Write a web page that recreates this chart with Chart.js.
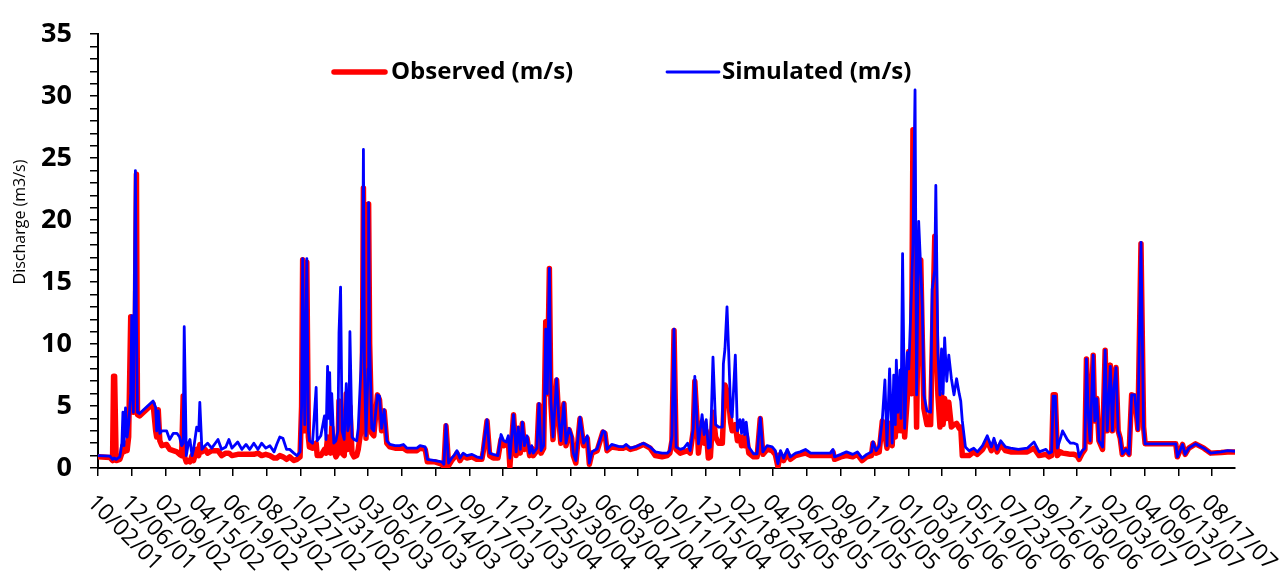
<!DOCTYPE html>
<html>
<head>
<meta charset="utf-8">
<script src="https://cdn.jsdelivr.net/npm/chart.js@4.4.1/dist/chart.umd.min.js"></script>
<style>
    html, body { margin: 0; padding: 0; background: #fff; }
    #wrap { width: 1288px; height: 572px; }
</style>
</head>
<body>
<div id="wrap"><canvas id="chart" width="1288" height="572"></canvas></div>
<script>
// x axis tick labels (every 65 days from the first day of the record)
const tickLabels = ['10/02/01', '12/06/01', '02/09/02', '04/15/02', '06/19/02', '08/23/02', '10/27/02',
    '12/31/02', '03/06/03', '05/10/03', '07/14/03', '09/17/03', '11/21/03', '01/25/04', '03/30/04',
    '06/03/04', '08/07/04', '10/11/04', '12/15/04', '02/18/05', '04/24/05', '06/28/05', '09/01/05',
    '11/05/05', '01/09/06', '03/15/06', '05/19/06', '07/23/06', '09/26/06', '11/30/06', '02/03/07',
    '04/09/07', '06/13/07', '08/17/07'];

// day number since 10/02/01
const days = [0, 23, 28, 30, 32, 35, 42, 46, 48, 50, 53, 56, 59, 63, 65, 68, 72, 74, 76, 80,
    106, 111, 113, 116, 119, 123, 132, 138, 145, 152, 157, 161, 164, 166, 170, 174, 177, 181, 184, 190,
    194, 196, 200, 206, 211, 219, 231, 238, 246, 252, 258, 269, 277, 285, 292, 300, 308, 315, 323, 331,
    339, 344, 350, 356, 363, 369, 377, 383, 389, 392, 394, 398, 402, 405, 407, 413, 420, 422, 429, 436,
    439, 442, 444, 446, 448, 450, 454, 458, 462, 464, 467, 470, 474, 478, 481, 483, 485, 489, 493, 498,
    501, 506, 509, 511, 513, 516, 520, 521, 523, 527, 531, 538, 542, 546, 551, 556, 562, 572, 581, 588,
    595, 605, 614, 620, 630, 634, 649, 662, 666, 670, 675, 681, 687, 691, 697, 703, 710, 720, 729, 739,
    742, 749, 754, 761, 770, 776, 781, 786, 790, 793, 800, 805, 809, 813, 817, 821, 826, 831, 835, 838,
    845, 849, 853, 858, 862, 865, 869, 872, 876, 883, 887, 891, 897, 901, 907, 912, 915, 920, 928, 935,
    942, 946, 951, 961, 972, 976, 980, 989, 1002, 1011, 1017, 1025, 1034, 1050, 1063, 1073, 1086, 1096, 1101, 1105,
    1109, 1113, 1121, 1128, 1135, 1140, 1146, 1149, 1153, 1156, 1163, 1167, 1171, 1175, 1179, 1184, 1189, 1195, 1202, 1204,
    1207, 1211, 1214, 1218, 1221, 1227, 1231, 1236, 1239, 1242, 1245, 1248, 1253, 1262, 1269, 1275, 1280, 1288, 1298, 1304,
    1309, 1314, 1320, 1327, 1333, 1343, 1352, 1362, 1372, 1391, 1410, 1415, 1418, 1430, 1441, 1453, 1462, 1471, 1480, 1489,
    1492, 1498, 1504, 1510, 1515, 1519, 1524, 1529, 1532, 1535, 1537, 1540, 1544, 1546, 1549, 1553, 1558, 1561, 1566, 1569,
    1573, 1576, 1580, 1584, 1587, 1590, 1596, 1603, 1606, 1611, 1613, 1617, 1621, 1624, 1627, 1630, 1634, 1638, 1643, 1648,
    1653, 1658, 1661, 1664, 1670, 1677, 1686, 1693, 1703, 1712, 1720, 1725, 1731, 1738, 1747, 1757, 1772, 1789, 1802, 1812,
    1825, 1831, 1836, 1839, 1843, 1847, 1853, 1857, 1866, 1872, 1879, 1885, 1889, 1895, 1900, 1903, 1907, 1910, 1916, 1919,
    1923, 1927, 1934, 1939, 1943, 1946, 1949, 1953, 1956, 1960, 1964, 1968, 1972, 1979, 1985, 1990, 1996, 2002, 2008, 2013,
    2016, 2075, 2078, 2088, 2093, 2100, 2113, 2129, 2142, 2162, 2175, 2189];

const observed = [0.9, 0.85, 0.6, 7.4, 7.4, 0.6, 0.7, 1.2, 1.8, 1.3, 2.0, 1.4, 2.5, 12.2, 5.0, 4.5, 12.0, 23.7, 4.3, 4.2,
    5.2, 3.0, 2.5, 4.7, 2.2, 1.8, 1.9, 1.5, 1.4, 1.3, 1.1, 1.0, 5.8, 1.0, 0.5, 0.6, 0.5, 1.0, 0.6, 1.5,
    1.0, 1.9, 1.3, 1.5, 1.2, 1.4, 1.4, 1.0, 1.2, 1.2, 1.0, 1.1, 1.1, 1.1, 1.1, 1.1, 1.2, 1.0, 1.1, 1.0,
    0.8, 0.8, 1.0, 0.9, 0.7, 0.9, 0.6, 0.7, 0.9, 5.0, 16.8, 3.0, 16.6, 2.5, 1.7, 1.6, 2.0, 1.0, 1.0, 1.5,
    1.2, 2.5, 1.5, 2.0, 1.2, 3.3, 1.5, 0.9, 1.2, 5.4, 2.5, 1.2, 1.0, 6.0, 1.5, 2.5, 5.0, 1.2, 0.9, 1.0,
    1.5, 3.0, 8.0, 22.6, 10.0, 2.4, 8.0, 21.3, 10.0, 2.8, 2.6, 5.9, 5.5, 3.0, 4.6, 2.0, 1.7, 1.6, 1.6, 1.6,
    1.4, 1.4, 1.4, 1.6, 1.5, 0.5, 0.5, 0.3, 0.1, 3.4, 0.2, 0.6, 0.9, 1.2, 0.6, 1.0, 0.8, 0.9, 0.7, 0.7,
    1.4, 3.8, 1.0, 0.8, 0.8, 2.3, 1.8, 1.9, 2.2, 0.1, 4.3, 1.0, 3.2, 1.2, 3.6, 1.5, 2.4, 1.0, 1.6, 1.0,
    1.4, 5.1, 1.2, 1.6, 11.8, 6.0, 16.1, 5.2, 2.3, 7.1, 4.0, 2.0, 5.2, 1.8, 3.1, 2.4, 1.0, 0.4, 4.0, 1.8,
    2.4, 0.3, 1.2, 1.4, 2.9, 2.8, 1.4, 1.7, 1.6, 1.6, 1.7, 1.5, 1.6, 1.9, 1.6, 1.0, 0.9, 1.0, 1.2, 2.2,
    11.1, 1.5, 1.2, 1.3, 1.4, 1.2, 3.0, 7.0, 4.0, 1.2, 3.7, 2.0, 3.0, 0.8, 0.9, 4.5, 2.5, 2.0, 2.0, 4.0,
    6.7, 6.2, 5.6, 3.7, 3.0, 3.5, 2.2, 2.5, 1.8, 2.5, 1.8, 2.7, 1.2, 0.9, 0.9, 4.0, 1.1, 1.5, 1.4, 1.1,
    0.1, 1.1, 0.6, 1.2, 0.7, 1.0, 1.1, 1.2, 1.0, 1.0, 1.0, 1.3, 0.7, 0.9, 1.0, 0.9, 1.1, 0.6, 0.9, 1.0,
    2.0, 1.2, 1.3, 3.8, 2.7, 1.6, 3.6, 1.8, 4.4, 2.5, 5.1, 3.0, 4.0, 3.0, 7.0, 2.5, 5.6, 9.4, 6.0, 27.3,
    12.0, 3.3, 16.5, 16.8, 10.4, 4.8, 3.5, 3.5, 9.3, 18.7, 12.0, 5.9, 3.3, 5.9, 3.5, 5.6, 4.0, 5.3, 3.3, 3.5,
    3.6, 3.2, 3.3, 1.0, 1.0, 1.0, 1.3, 1.1, 1.5, 2.2, 1.4, 2.0, 1.3, 1.9, 1.4, 1.3, 1.3, 1.3, 1.6, 1.0,
    1.1, 0.9, 1.0, 5.9, 5.9, 1.0, 1.3, 1.2, 1.15, 1.1, 1.1, 1.0, 0.7, 1.2, 1.5, 8.8, 4.0, 2.1, 9.1, 3.8,
    5.6, 2.2, 1.5, 9.5, 3.0, 5.5, 8.3, 3.0, 6.5, 8.1, 3.0, 2.4, 1.1, 1.5, 1.1, 5.9, 5.8, 3.1, 18.1, 3.3,
    1.95, 1.95, 0.9, 1.9, 1.1, 1.6, 1.95, 1.6, 1.2, 1.25, 1.3, 1.3];

const simulated = [1.0, 0.95, 0.7, 0.8, 0.8, 0.7, 0.9, 2.0, 4.5, 1.8, 4.85, 2.5, 3.5, 6.0, 12.3, 4.5, 24.0, 12.0, 4.5, 4.4,
    5.4, 4.9, 3.0, 4.6, 2.8, 3.0, 3.0, 2.3, 2.8, 2.8, 2.5, 1.8, 2.0, 11.4, 1.0, 2.0, 2.3, 1.0, 1.5, 3.3,
    3.0, 5.3, 1.5, 1.8, 2.0, 1.6, 2.3, 1.5, 1.7, 2.3, 1.6, 2.1, 1.5, 1.9, 1.5, 2.0, 1.5, 2.0, 1.6, 1.8,
    1.3, 1.9, 2.5, 2.4, 1.5, 1.5, 1.2, 1.0, 1.3, 5.0, 16.9, 3.5, 16.9, 3.0, 2.2, 2.0, 6.5, 2.2, 2.6, 4.2,
    2.3, 8.2, 4.0, 7.7, 3.5, 6.0, 2.0, 2.2, 3.0, 10.9, 14.6, 3.0, 2.3, 6.8, 3.0, 3.5, 11.0, 2.5, 2.3, 2.2,
    3.2, 7.8, 12.0, 25.7, 8.0, 2.6, 8.0, 21.4, 10.0, 3.2, 3.0, 5.9, 5.8, 3.2, 4.7, 2.2, 1.9, 1.8, 1.8, 1.9,
    1.6, 1.6, 1.6, 1.8, 1.7, 0.7, 0.6, 0.5, 0.3, 3.5, 0.4, 0.8, 1.1, 1.4, 0.8, 1.2, 1.0, 1.1, 0.9, 0.8,
    1.7, 3.9, 1.2, 1.1, 1.0, 2.7, 2.2, 2.1, 2.6, 0.8, 4.3, 1.3, 3.3, 1.5, 3.7, 1.8, 2.6, 1.2, 1.8, 1.2,
    1.6, 5.2, 1.4, 1.8, 11.2, 6.0, 16.1, 5.4, 2.5, 7.2, 4.0, 2.2, 5.25, 2.0, 3.2, 2.6, 1.2, 0.6, 4.1, 2.0,
    2.6, 0.4, 1.3, 1.55, 3.0, 2.9, 1.5, 1.9, 1.75, 1.7, 1.9, 1.6, 1.7, 2.0, 1.7, 1.3, 1.2, 1.2, 1.4, 2.6,
    11.2, 1.7, 1.5, 1.6, 2.0, 1.4, 3.2, 7.4, 4.0, 1.95, 4.3, 2.7, 3.9, 1.6, 1.7, 8.95, 3.5, 3.3, 3.3, 8.4,
    9.6, 13.0, 9.6, 4.6, 4.1, 9.1, 3.0, 3.9, 2.8, 3.9, 2.7, 3.7, 1.7, 1.15, 1.15, 4.06, 1.3, 1.8, 1.7, 1.4,
    0.35, 1.4, 0.8, 1.5, 0.9, 1.2, 1.3, 1.5, 1.2, 1.2, 1.2, 1.5, 0.9, 1.1, 1.3, 1.1, 1.3, 0.8, 1.1, 1.3,
    2.1, 1.4, 1.8, 3.9, 7.1, 1.8, 8.0, 2.0, 7.5, 3.5, 8.7, 4.5, 7.9, 4.0, 17.3, 3.2, 9.3, 8.0, 14.1, 18.0,
    30.5, 5.9, 19.9, 16.0, 13.0, 5.9, 4.6, 4.5, 14.4, 16.0, 22.8, 9.3, 5.9, 9.6, 6.0, 10.5, 7.0, 9.1, 7.2, 5.9,
    7.2, 6.0, 5.4, 3.8, 1.7, 1.4, 1.6, 1.3, 1.8, 2.6, 1.7, 2.4, 1.5, 2.2, 1.7, 1.6, 1.5, 1.6, 2.1, 1.3,
    1.5, 1.2, 1.3, 5.8, 5.8, 1.6, 2.4, 3.0, 2.3, 2.0, 2.0, 1.9, 0.9, 1.4, 1.6, 8.8, 4.0, 2.2, 9.1, 3.8,
    5.6, 2.2, 1.7, 9.5, 3.0, 5.5, 8.2, 3.0, 6.5, 8.1, 3.0, 2.4, 1.15, 1.5, 1.1, 5.9, 5.9, 3.1, 18.2, 3.3,
    1.95, 1.95, 0.9, 1.9, 1.1, 1.6, 1.95, 1.6, 1.2, 1.3, 1.4, 1.35];

const lastDay = 2189;

// day offset of every tick label, worked out from its date
function labelDay(label) {
    const p = label.split('/');
    const t = Date.UTC(2000 + parseInt(p[2], 10), parseInt(p[0], 10) - 1, parseInt(p[1], 10));
    const t0 = Date.UTC(2001, 9, 2);
    return Math.round((t - t0) / 86400000);
}

const tickDays = tickLabels.map(labelDay);

// rotated date labels, reading downwards to the right like the original
const dateLabels = {
    id: 'dateLabels',
    afterDraw(chart) {
        const xs = chart.scales.x;
        const ctx = chart.ctx;
        ctx.save();
        ctx.font = '23px "Open Sans"';
        ctx.fillStyle = '#000';
        ctx.textAlign = 'left';
        ctx.textBaseline = 'top';
        tickDays.forEach((d, i) => {
            const px = xs.getPixelForValue(d);
            ctx.save();
            ctx.translate(px + 1, xs.top + 23);
            ctx.rotate(Math.PI / 4);
            ctx.fillText(tickLabels[i], 0, 0);
            ctx.restore();
        });
        ctx.restore();
    }
};

// y axis title and legend sitting inside the plot
const extras = {
    id: 'extras',
    afterDraw(chart) {
        const ctx = chart.ctx;
        ctx.save();
        ctx.fillStyle = '#000';
        ctx.font = '16px "Open Sans"';
        ctx.textAlign = 'center';
        ctx.textBaseline = 'middle';
        ctx.translate(20, 222);
        ctx.rotate(-Math.PI / 2);
        ctx.fillText('Discharge (m3/s)', 0, 0);
        ctx.restore();

        const items = [
            { ds: chart.data.datasets[0], x0: 334, x1: 385, tx: 391 },
            { ds: chart.data.datasets[1], x0: 667, x1: 719, tx: 722 }
        ];
        ctx.save();
        ctx.font = 'bold 24px "Open Sans"';
        ctx.textBaseline = 'middle';
        ctx.textAlign = 'left';
        items.forEach(it => {
            ctx.strokeStyle = it.ds.borderColor;
            ctx.lineWidth = it.ds.borderWidth;
            ctx.lineCap = 'round';
            ctx.beginPath();
            ctx.moveTo(it.x0, 72);
            ctx.lineTo(it.x1, 72);
            ctx.stroke();
            ctx.fillStyle = '#000';
            ctx.fillText(it.ds.label, it.tx, 72);
        });
        ctx.restore();
    }
};

const config = {
    type: 'line',
    data: {
        datasets: [{
            label: 'Observed (m/s)',
            data: days.map((d, i) => ({ x: d, y: observed[i] })),
            borderColor: '#ff0000',
            borderWidth: 5.5,
            borderJoinStyle: 'round',
            borderCapStyle: 'round',
            pointRadius: 0,
            tension: 0,
            order: 1
        }, {
            label: 'Simulated (m/s)',
            data: days.map((d, i) => ({ x: d, y: simulated[i] })),
            borderColor: '#0000ff',
            borderWidth: 2.8,
            borderJoinStyle: 'round',
            pointRadius: 0,
            tension: 0,
            order: 0
        }]
    },
    options: {
        responsive: false,
        animation: false,
        events: [],
        layout: {
            padding: { left: 0, right: 53, top: 26, bottom: 0 }
        },
        plugins: {
            legend: { display: false },
            tooltip: { enabled: false }
        },
        scales: {
            x: {
                type: 'linear',
                min: 0,
                max: lastDay,
                afterBuildTicks: function(scale) {
                    scale.ticks = tickDays.map(d => ({ value: d }));
                },
                afterFit: function(scale) {
                    scale.height = 104;
                },
                ticks: { display: false },
                grid: {
                    display: true,
                    drawOnChartArea: false,
                    drawTicks: true,
                    tickLength: 8,
                    color: '#000',
                    lineWidth: 1.5
                },
                border: { display: true, color: '#000', width: 2 }
            },
            y: {
                min: 0,
                max: 35,
                afterFit: function(scale) {
                    scale.width = 98;
                },
                ticks: {
                    stepSize: 1,
                    autoSkip: false,
                    padding: 18,
                    color: '#000',
                    font: { family: 'Open Sans', size: 27, weight: 'bold' },
                    callback: function(v) {
                        return v % 5 === 0 ? v : '';
                    }
                },
                grid: {
                    display: true,
                    drawOnChartArea: false,
                    drawTicks: true,
                    tickLength: 8,
                    color: '#000',
                    lineWidth: 1.5
                },
                border: { display: true, color: '#000', width: 2 }
            }
        }
    },
    plugins: [dateLabels, extras]
};

window.onload = function() {
    new Chart(document.getElementById('chart'), config);
};
</script>
</body>
</html>
